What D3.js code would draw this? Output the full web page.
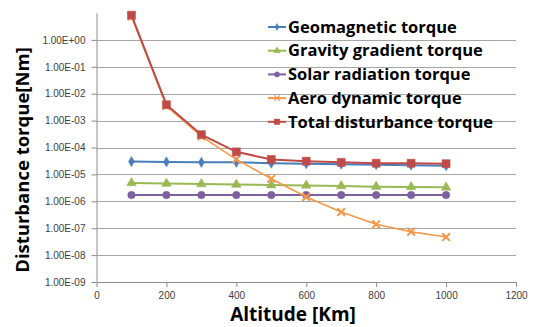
<!DOCTYPE html>
<html>
<head>
<meta charset="utf-8">
<script src="https://cdn.jsdelivr.net/npm/d3@7"></script>
<style>
  body { margin: 0; background: #fff; }
  svg { display: block; }
</style>
</head>
<body>
<svg width="534" height="327"></svg>
<script>
// altitude in km
const altitudes = [100, 200, 300, 400, 500, 600, 700, 800, 900, 1000];

// torques in Nm
const geomagnetic = [3.0e-5, 2.9e-5, 2.8e-5, 2.8e-5, 2.6e-5, 2.5e-5, 2.4e-5, 2.3e-5, 2.2e-5, 2.1e-5];
const gravityGradient = [4.8e-6, 4.6e-6, 4.4e-6, 4.2e-6, 4.0e-6, 3.9e-6, 3.7e-6, 3.5e-6, 3.4e-6, 3.3e-6];
const solarRadiation = [1.7e-6, 1.7e-6, 1.7e-6, 1.7e-6, 1.7e-6, 1.7e-6, 1.7e-6, 1.7e-6, 1.7e-6, 1.7e-6];
const aeroDynamic = [7.5e0, 3.5e-3, 2.6e-4, 3.6e-5, 6.9e-6, 1.45e-6, 4.0e-7, 1.4e-7, 7.4e-8, 4.7e-8];
const totalDisturbance = [8.3e0, 3.9e-3, 3.0e-4, 6.9e-5, 3.6e-5, 3.1e-5, 2.8e-5, 2.6e-5, 2.6e-5, 2.5e-5];

const seriesNames = ["Geomagnetic torque", "Gravity gradient torque", "Solar radiation torque", "Aero dynamic torque", "Total disturbance torque"];
const seriesColors = ["#4a7ebb", "#98b954", "#7d60a0", "#f79646", "#be4b48"];
const seriesMarkers = ["diamond", "triangle", "circle", "cross", "square"];

const xTicks = [0, 200, 400, 600, 800, 1000, 1200];
const yTicks = [1e-9, 1e-8, 1e-7, 1e-6, 1e-5, 1e-4, 1e-3, 1e-2, 1e-1, 1e0];

const allSeries = [geomagnetic, gravityGradient, solarRadiation, aeroDynamic, totalDisturbance];

const svg = d3.select("svg");
const margin = {top: 13, right: 18, bottom: 45, left: 96.5};
const width = 534 - margin.left - margin.right;
const height = 327 - margin.top - margin.bottom;

const x = d3.scaleLinear().domain([0, 1200]).range([0, width]);
const y = d3.scaleLog().domain([1e-9, 1e1]).range([height, 0]);

const g = svg.append("g").attr("transform", "translate(" + margin.left + "," + margin.top + ")");

// gridlines
g.append("g")
  .selectAll("line")
  .data(yTicks)
  .join("line")
  .attr("x1", 0)
  .attr("x2", width)
  .attr("y1", d => Math.round(y(d)) + 0.5)
  .attr("y2", d => Math.round(y(d)) + 0.5)
  .attr("stroke", "#a6a6a6")
  .attr("stroke-width", 1);

const fmt = d => d.toExponential(2).toUpperCase().replace(/E([+-])(\d)$/, "E$10$2");

const yAxis = g.append("g")
  .call(d3.axisLeft(y).tickValues(yTicks).tickFormat(fmt).tickSize(5).tickSizeOuter(0));
yAxis.select(".domain").attr("stroke", "#8c8c8c");
yAxis.selectAll(".tick line").attr("stroke", "#8c8c8c");
yAxis.selectAll("text")
  .attr("x", -11)
  .attr("fill", "#404040")
  .style("font-family", "'Liberation Sans Narrow', 'Liberation Sans', sans-serif")
  .style("font-size", "10px");

const xAxis = g.append("g")
  .attr("transform", "translate(0," + height + ")")
  .call(d3.axisBottom(x).tickValues(xTicks).tickFormat(d3.format("d")).tickSize(5).tickSizeOuter(0));
xAxis.select(".domain").attr("stroke", "#8c8c8c");
xAxis.selectAll(".tick line").attr("stroke", "#8c8c8c");
xAxis.selectAll("text")
  .attr("y", 10)
  .attr("fill", "#404040")
  .style("font-family", "'Liberation Sans', sans-serif")
  .style("font-size", "10px");

const line = d3.line()
  .x((d, i) => x(altitudes[i]))
  .y(d => y(d));

function markerPath(kind) {
  if (kind === "diamond") return d3.symbol(d3.symbolDiamond, 30)();
  if (kind === "triangle") return d3.symbol(d3.symbolTriangle, 40)();
  if (kind === "circle") return d3.symbol(d3.symbolCircle, 44)();
  if (kind === "square") return d3.symbol(d3.symbolSquare, 64)();
  return d3.symbol(d3.symbolX, 40)();
}

allSeries.forEach((vals, s) => {
  const sg = g.append("g");
  sg.append("path")
    .datum(vals)
    .attr("fill", "none")
    .attr("stroke", seriesColors[s])
    .attr("stroke-width", s === 3 ? 1.5 : 2)
    .attr("d", line);
  sg.selectAll("path.mk")
    .data(vals)
    .join("path")
    .attr("class", "mk")
    .attr("transform", (d, i) => "translate(" + x(altitudes[i]) + "," + y(d) + ")")
    .attr("d", markerPath(seriesMarkers[s]))
    .attr("fill", seriesMarkers[s] === "cross" ? "none" : seriesColors[s])
    .attr("stroke", seriesColors[s])
    .attr("stroke-width", seriesMarkers[s] === "cross" ? 2 : 0.5);
});

// legend
const legend = svg.append("g").attr("transform", "translate(268,27)");
seriesNames.forEach((name, i) => {
  const row = legend.append("g").attr("transform", "translate(0," + (i * 23.7) + ")");
  row.append("line")
    .attr("x1", 0).attr("x2", 18).attr("y1", 0).attr("y2", 0)
    .attr("stroke", seriesColors[i]).attr("stroke-width", 2);
  row.append("path")
    .attr("d", markerPath(seriesMarkers[i]))
    .attr("fill", seriesMarkers[i] === "cross" ? "none" : seriesColors[i])
    .attr("stroke", seriesColors[i])
    .attr("stroke-width", seriesMarkers[i] === "cross" ? 1.5 : 0.5)
    .attr("transform", "translate(9,0) scale(0.7)");
  row.append("text")
    .attr("x", 20)
    .attr("y", 0)
    .attr("dy", "0.35em")
    .attr("fill", "#000")
    .style("font-family", "'Open Sans', sans-serif")
    .style("font-weight", "bold")
    .style("font-size", "16.5px")
    .text(name);
});

// axis titles
svg.append("text")
  .attr("transform", "translate(29,160) rotate(-90)")
  .attr("text-anchor", "middle")
  .style("font-family", "'Open Sans', sans-serif")
  .style("font-weight", "bold")
  .style("font-size", "18.5px")
  .text("Disturbance torque[Nm]");

svg.append("text")
  .attr("x", 293)
  .attr("y", 321)
  .attr("text-anchor", "middle")
  .style("font-family", "'Open Sans', sans-serif")
  .style("font-weight", "bold")
  .style("font-size", "19px")
  .text("Altitude [Km]");
</script>
</body>
</html>
